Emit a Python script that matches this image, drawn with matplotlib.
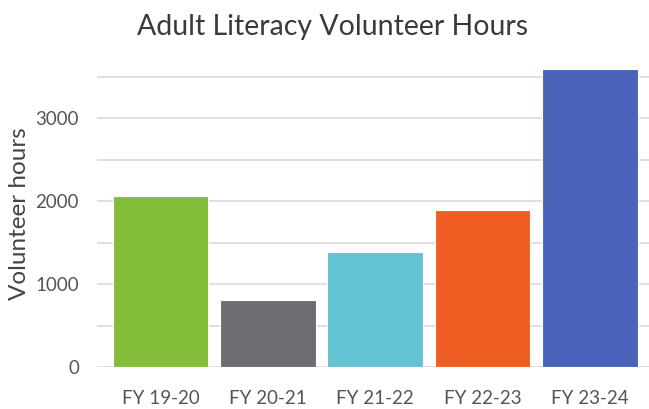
import numpy as np
import matplotlib.pyplot as plt

years = ['FY 19-20', 'FY 20-21', 'FY 21-22', 'FY 22-23', 'FY 23-24']
hours = [2060, 810, 1395, 1895, 3590]
colors = ['#84bd3a', '#6d6e71', '#63c3d3', '#f05e23', '#4a63b8']

plt.rcParams['font.family'] = ['Lato', 'DejaVu Sans']

fig = plt.figure(figsize=(6.49, 4.09), dpi=100)
ax = fig.add_axes([0.1495, 0.1015, 0.8505, 0.751])

x = np.arange(len(years))
ax.bar(x, hours, 0.89, color=colors, edgecolor='white', linewidth=0.8, zorder=3)

ax.set_xlim(-0.59, 4.55)
ax.set_ylim(0, 3700)
ax.set_yticks([0, 1000, 2000, 3000])
ax.set_yticks(np.arange(0, 3600, 500), minor=True)
ax.grid(axis='y', which='both', color='#dcdcdc', linewidth=1.3, zorder=0)
ax.set_xticks(x, years)
ax.tick_params(which='both', length=0, labelsize=13.5, colors='#555555')
ax.tick_params(axis='x', pad=16)
ax.tick_params(axis='y', pad=13)
for s in ax.spines.values():
    s.set_visible(False)

ax.set_ylabel('Volunteer hours', fontsize=17.5, color='#444444')
ax.yaxis.set_label_coords(-0.122, 0.5)
fig.text(0.513, 0.935, 'Adult Literacy Volunteer Hours', ha='center', va='center',
         fontsize=20.5, color='#3a3a3a')

fig.savefig('out.png', dpi=100)
